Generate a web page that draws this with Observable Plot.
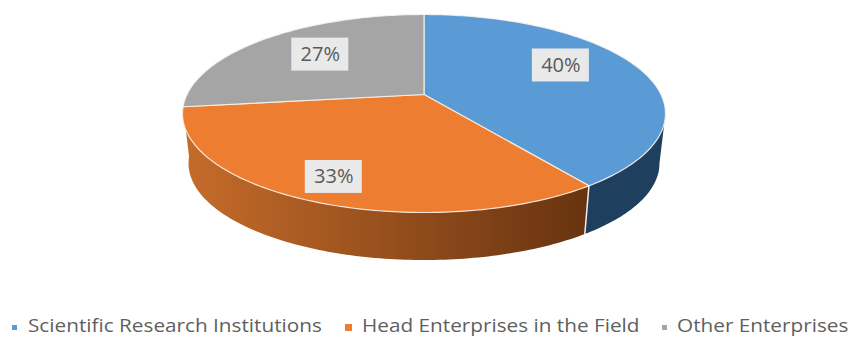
<!DOCTYPE html>
<html>
<head>
<meta charset="utf-8">
<script src="https://cdn.jsdelivr.net/npm/d3@7"></script>
<script src="https://cdn.jsdelivr.net/npm/@observablehq/plot@0.6"></script>
<style>
  html, body { margin: 0; padding: 0; background: #fff; }
  #legend { position: relative; height: 20px; font: 18px "Open Sans", sans-serif; color: #5f5f5f; }
  #legend span { position: absolute; top: -5.5px; height: 25px; line-height: 25px; white-space: nowrap; transform: scaleX(1.152); transform-origin: 0 50%; }
  #legend i { position: absolute; }
</style>
</head>
<body>
<div id="chart"></div>
<div id="legend"></div>
<script>
// Share of each kind of organisation
const categories = ["Scientific Research Institutions", "Head Enterprises in the Field", "Other Enterprises"];
const shares = [40, 33, 27];
const topColors = ["#5b9bd5", "#ed7d31", "#a5a5a5"];
const wallStops = [["#1f3f5f", "#1f3f5f"], ["#c66c2a", "#673310"]];

const W = 849, H = 318;
const radiusPx = 237, originX = 423.5, originY = 94;
const tilt = 0.192, squash = 0.4023;    // perspective of the disc
const bottomScale = 0.975, bottomDrop = 0.213;  // lower rim relative to the upper rim

// Polar position on the tilted disc, angle in degrees clockwise from east
function project(deg, r = 1) {
  const a = deg * Math.PI / 180, d = 1 - tilt * r * Math.sin(a);
  return {x: r * Math.cos(a) / d, y: squash * r * Math.sin(a) / d};
}
const lower = ({x, y}) => ({x: bottomScale * x, y: bottomScale * y + bottomDrop});
const arc = (a0, a1) => {
  const n = Math.max(2, Math.ceil(Math.abs(a1 - a0)));
  return d3.range(n + 1).map(i => project(a0 + (a1 - a0) * i / n));
};

// Slice angles follow the shares, starting at twelve o'clock
const total = d3.sum(shares);
let running = -90;
const slices = shares.map((v, i) => {
  const a0 = running, a1 = running + v / total * 360;
  running = a1;
  return {i, a0, a1, mid: (a0 + a1) / 2};
});

const face = s => {
  const pts = [project(0, 0), ...arc(s.a0, s.a1), project(0, 0)];
  return Plot.line(pts, {x: "x", y: "y", fill: topColors[s.i], stroke: "#fdf3ea", strokeWidth: 1.2, strokeOpacity: 0.85});
};
const wall = (a0, a1, id) => {
  const upper = arc(a0, a1);
  return Plot.line([...upper, ...upper.slice().reverse().map(lower)], {x: "x", y: "y", fill: `url(#${id})`, stroke: "none"});
};

const silhouette = Math.asin(tilt) * 180 / Math.PI;
const seamAngle = slices[0].a1, seamTop = project(seamAngle);

// Value labels: radial position on the disc plus a small lift
const placement = [{r: 0.63, lift: 0.047}, {r: 0.82, lift: 0.006}, {r: 0.63, lift: 0.013}];
const labels = slices.map(s => {
  const p = project(s.mid, placement[s.i].r);
  return {x: p.x, y: p.y - placement[s.i].lift, text: `${shares[s.i]}%`};
});
const boxW = 28.5 / radiusPx, boxH = 16.5 / radiusPx;

const chart = Plot.plot({
  width: W, height: H, margin: 0,
  x: {domain: [-originX / radiusPx, (W - originX) / radiusPx], range: [0, W], axis: null},
  y: {domain: [-originY / radiusPx, (H - originY) / radiusPx], range: [0, H], axis: null},
  marks: [
    wall(silhouette, slices[0].a1, "wallBlue"),
    wall(slices[1].a0, slices[1].a1, "wallOrange"),
    Plot.line([seamTop, lower(seamTop)], {x: "x", y: "y", stroke: "#f4ece4", strokeWidth: 1.5}),
    ...slices.map(face),
    Plot.rect(labels, {x1: d => d.x - boxW, x2: d => d.x + boxW, y1: d => d.y - boxH, y2: d => d.y + boxH, fill: "#e9e9e9"}),
    Plot.text(labels, {x: "x", y: "y", text: "text", fill: "#595959", fontSize: 20, fontFamily: "Open Sans"})
  ]
});

// Shading for the walls
const defs = d3.select(chart).insert("defs", ":first-child");
[["wallBlue", wallStops[0]], ["wallOrange", wallStops[1]]].forEach(([id, [from, to]]) => {
  const g = defs.append("linearGradient").attr("id", id);
  g.append("stop").attr("offset", "0%").attr("stop-color", from);
  g.append("stop").attr("offset", "100%").attr("stop-color", to);
});
document.getElementById("chart").append(chart);

// Legend row under the chart
const legendLayout = [
  {swatchX: 12, swatchY: 7, size: 5, textX: 28},
  {swatchX: 345, swatchY: 6, size: 7, textX: 362},
  {swatchX: 662, swatchY: 7, size: 5, textX: 677}
];
const legend = d3.select("#legend");
categories.forEach((c, i) => {
  const l = legendLayout[i];
  legend.append("i")
    .style("left", l.swatchX + "px").style("top", l.swatchY + "px")
    .style("width", l.size + "px").style("height", l.size + "px")
    .style("background", topColors[i]);
  legend.append("span").style("left", l.textX + "px").text(c);
});
</script>
</body>
</html>
